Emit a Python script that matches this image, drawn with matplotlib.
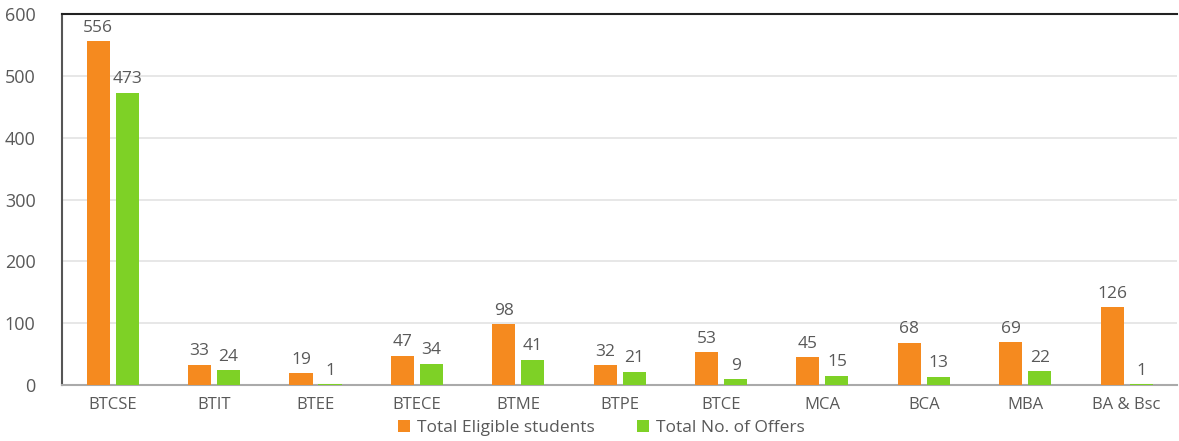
import numpy as np
import matplotlib
matplotlib.use('Agg')
import matplotlib.pyplot as plt

plt.rcParams['font.family'] = ['Open Sans', 'DejaVu Sans']

# data
categories = ['BTCSE', 'BTIT', 'BTEE', 'BTECE', 'BTME', 'BTPE', 'BTCE', 'MCA', 'BCA', 'MBA', 'BA & Bsc']
eligible = [556, 33, 19, 47, 98, 32, 53, 45, 68, 69, 126]
offers = [473, 24, 1, 34, 41, 21, 9, 15, 13, 22, 1]

orange = '#F58A1F'
green = '#7ED126'
text_color = '#595959'

fig = plt.figure(figsize=(11.79, 4.41), dpi=100)
ax = fig.add_axes([0.0526, 0.127, 0.946, 0.841])

x = np.arange(len(categories))
w = 0.227
off = 0.143
b1 = ax.bar(x - off, eligible, w, color=orange, label='Total Eligible students', zorder=3)
b2 = ax.bar(x + off, offers, w, color=green, label='Total No. of Offers', zorder=3)

for bars in (b1, b2):
    for b in bars:
        h = b.get_height()
        ax.annotate(f'{int(h)}', (b.get_x() + b.get_width() / 2, h),
                    xytext=(0, 4), textcoords='offset points',
                    ha='center', va='bottom', fontsize=12.5, color=text_color)

ax.set_xlim(-0.5, len(categories) - 0.5)
ax.set_ylim(0, 600)
ax.set_yticks(range(0, 601, 100))
ax.set_xticks(x)
ax.set_xticklabels(categories)
ax.tick_params(axis='both', length=0, labelsize=12, colors=text_color)
ax.tick_params(axis='x', pad=9)
ax.tick_params(axis='y', pad=19)
for lbl in ax.get_yticklabels():
    lbl.set_fontsize(13)

ax.yaxis.grid(True, color='#E3E3E3', linewidth=1.2, zorder=0)
ax.set_axisbelow(True)

ax.spines['right'].set_visible(False)
ax.spines['top'].set_color('#222222')
ax.spines['top'].set_linewidth(1.5)
ax.spines['left'].set_color('#555555')
ax.spines['left'].set_linewidth(1.5)
ax.spines['bottom'].set_color('#AAAAAA')
ax.spines['bottom'].set_linewidth(1.5)

leg = fig.legend(loc='lower center', bbox_to_anchor=(0.51, -0.025), ncol=2,
                 frameon=False, fontsize=12.5, handlelength=0.7, handleheight=0.7,
                 handletextpad=0.4, columnspacing=2.4)
for t in leg.get_texts():
    t.set_color(text_color)

fig.savefig('out.png', dpi=100)
